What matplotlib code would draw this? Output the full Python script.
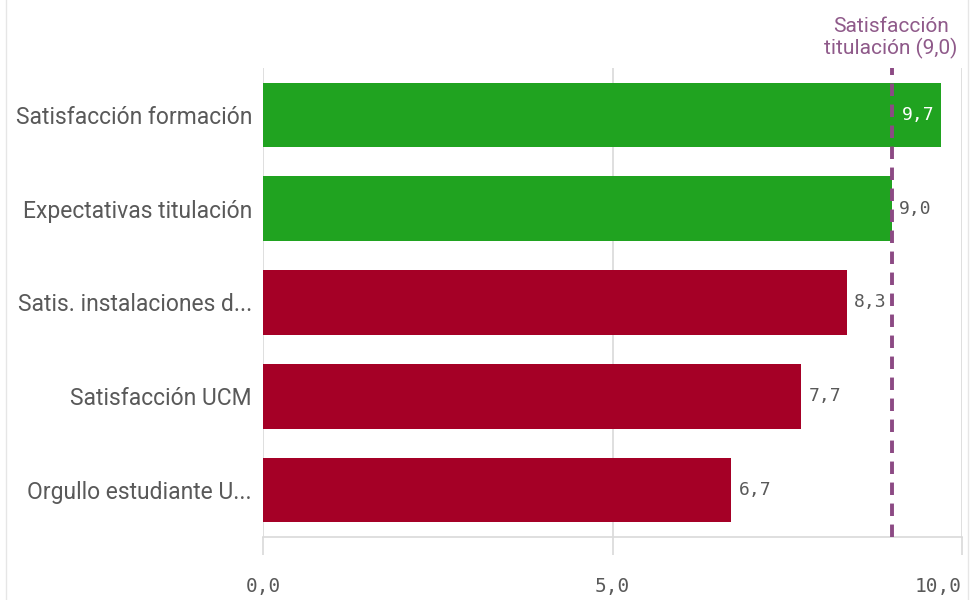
import matplotlib.pyplot as plt
import numpy as np

# %% Data

categories = ['Satisfacción formación', 'Expectativas titulación',
              'Satis. instalaciones d...', 'Satisfacción UCM',
              'Orgullo estudiante U...']
values = [9.7, 9.0, 8.35, 7.7, 6.7]
value_labels = ['9,7', '9,0', '8,3', '7,7', '6,7']
ref_value = 9.0
ref_label = 'Satisfacción\ntitulación (9,0)'
xticks = [0, 5, 10]
xtick_labels = ['0,0', '5,0', '10,0']

# %% Styling

green = '#20a320'
red = '#a50026'
purple = '#8c4a84'
grey_text = '#595959'
grid_col = '#d9d9d9'
sans = ['Roboto', 'DejaVu Sans']
mono = ['DejaVu Sans Mono']

fig = plt.figure(figsize=(9.8, 6.0), dpi=100)
ax = fig.add_axes([0.2684, 0.105, 0.7133, 0.7817])

y = np.arange(len(categories))
colors = [green if v >= ref_value else red for v in values]
ax.barh(y, values, height=0.69, color=colors, zorder=2)

ax.set_ylim(len(categories) - 0.5, -0.5)
ax.set_xlim(0, 10)

# gridlines
for xt in xticks:
    ax.axvline(xt, color=grid_col, lw=1.2, zorder=1)

# reference line
ax.axvline(ref_value, color=purple, lw=2.8, ls=(0, (3.2, 2.2)), zorder=3)
ax.text(ref_value - 0.02, -0.6, ref_label, color='#8f5a8a', fontsize=15,
        family=sans, ha='center', va='bottom', linespacing=1.1)

# value labels
for yi, v, lab in zip(y, values, value_labels):
    if v > 9.5:
        ax.text(v - 0.1, yi, lab, color='white', fontsize=13,
                family=mono, ha='right', va='center', zorder=4)
    else:
        ax.text(v + 0.1, yi, lab, color=grey_text, fontsize=13,
                family=mono, ha='left', va='center', zorder=4)

# axes
for s in ['top', 'right', 'left']:
    ax.spines[s].set_visible(False)
ax.spines['bottom'].set_color(grid_col)
ax.spines['bottom'].set_linewidth(1.2)

ax.set_yticks(y)
ax.set_yticklabels(categories, fontsize=16.5, family=sans, color=grey_text)
ax.tick_params(axis='y', length=0, pad=8)

ax.set_xticks(xticks)
ax.set_xticklabels(xtick_labels, fontsize=14, family=mono, color=grey_text)
ax.tick_params(axis='x', length=13, width=1.2, color=grid_col, pad=16)
tl = ax.get_xticklabels()
tl[-1].set_ha('right')
tl[-1].set_x(10)

# faint frame lines of the surrounding panel
fig.add_artist(plt.Line2D([0.006, 0.006], [0, 1], color='#e6e6e6', lw=1))
fig.add_artist(plt.Line2D([0.988, 0.988], [0, 1], color='#e6e6e6', lw=1))

fig.savefig('out.png', dpi=100)
